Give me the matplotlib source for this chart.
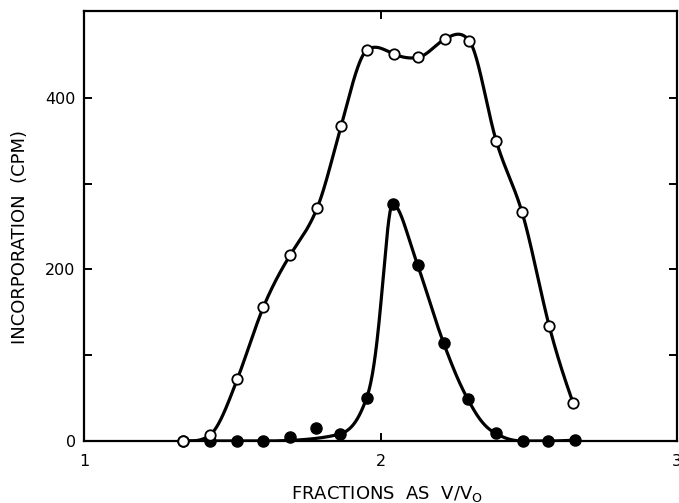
import numpy as np
import matplotlib
matplotlib.use("Agg")
import matplotlib.pyplot as plt

# ---- data ----
x_open = [1.334, 1.425, 1.517, 1.605, 1.696, 1.787, 1.867, 1.953, 2.044,
          2.128, 2.216, 2.300, 2.390, 2.477, 2.569, 2.650]
y_open = [0, 7, 72, 156, 217, 272, 367, 455, 451, 447, 468, 466, 350, 267, 134, 44]

x_filled = [1.334, 1.425, 1.517, 1.605, 1.696, 1.784, 1.862, 1.953, 2.041,
            2.125, 2.213, 2.294, 2.388, 2.479, 2.564, 2.655]
y_filled = [0, 0, 0, 0, 5, 15, 8, 50, 276, 205, 114, 49, 9, 0, 0, 1]
filled_off_curve = [4, 5]   # points lying off the drawn curve

x_ticks = [1, 2, 3]
x_ticklabels = ["1", "2", "3"]
y_ticks = [0, 100, 200, 300, 400]
y_ticklabels = ["0", "", "200", "", "400"]


def pchip(x, y, xs):
    x = np.asarray(x, float); y = np.asarray(y, float)
    n = len(x)
    h = np.diff(x); d = np.diff(y) / h
    m = np.zeros(n)
    for k in range(1, n - 1):
        if d[k - 1] * d[k] <= 0:
            m[k] = 0.0
        else:
            w1 = 2 * h[k] + h[k - 1]
            w2 = h[k] + 2 * h[k - 1]
            m[k] = (w1 + w2) / (w1 / d[k - 1] + w2 / d[k])
    def endslope(h0, h1, d0, d1):
        s = ((2 * h0 + h1) * d0 - h0 * d1) / (h0 + h1)
        if np.sign(s) != np.sign(d0):
            s = 0.0
        elif np.sign(d0) != np.sign(d1) and abs(s) > abs(3 * d0):
            s = 3 * d0
        return s
    m[0] = endslope(h[0], h[1], d[0], d[1])
    m[-1] = endslope(h[-1], h[-2], d[-1], d[-2])
    idx = np.clip(np.searchsorted(x, xs) - 1, 0, n - 2)
    t = (xs - x[idx]) / h[idx]
    h00 = 2 * t**3 - 3 * t**2 + 1
    h10 = t**3 - 2 * t**2 + t
    h01 = -2 * t**3 + 3 * t**2
    h11 = t**3 - t**2
    return (h00 * y[idx] + h10 * h[idx] * m[idx] + h01 * y[idx + 1]
            + h11 * h[idx] * m[idx + 1])


def cubic_spline(x, y, xs, start_slope=None):
    x = np.asarray(x, float); y = np.asarray(y, float)
    n = len(x)
    h = np.diff(x)
    A = np.zeros((n, n)); b = np.zeros(n)
    for i in range(1, n - 1):
        A[i, i - 1] = h[i - 1]
        A[i, i] = 2 * (h[i - 1] + h[i])
        A[i, i + 1] = h[i]
        b[i] = 6 * ((y[i + 1] - y[i]) / h[i] - (y[i] - y[i - 1]) / h[i - 1])
    if start_slope is None:
        A[0, 0] = 1
    else:
        A[0, 0] = 2 * h[0]; A[0, 1] = h[0]
        b[0] = 6 * ((y[1] - y[0]) / h[0] - start_slope)
    A[-1, -1] = 1
    M = np.linalg.solve(A, b)
    idx = np.clip(np.searchsorted(x, xs) - 1, 0, n - 2)
    x0 = x[idx]; x1 = x[idx + 1]; hh = h[idx]
    return (M[idx] * (x1 - xs)**3 / (6 * hh) + M[idx + 1] * (xs - x0)**3 / (6 * hh)
            + (y[idx] / hh - M[idx] * hh / 6) * (x1 - xs)
            + (y[idx + 1] / hh - M[idx + 1] * hh / 6) * (xs - x0))


plt.rcParams['font.family'] = ['DejaVu Sans']

fig = plt.figure(figsize=(6.79, 5.03), dpi=100)
ax = fig.add_axes([84 / 679, 1 - 441 / 503, (677 - 84) / 679, (441 - 11) / 503])

# open-circle curve: blend of monotone and natural spline
xs = np.linspace(x_open[0], x_open[-1], 800)
y_curve = 0.4 * pchip(x_open, y_open, xs) + \
    0.6 * cubic_spline(x_open, y_open, xs, start_slope=0.0)
ax.plot(xs, np.maximum(y_curve, 0), color='black', lw=2.3,
        solid_capstyle='round', zorder=2)

# filled-circle curve (monotone interpolation in log space)
xf_c = np.array([v for i, v in enumerate(x_filled) if i not in filled_off_curve])
yf_c = np.array([v for i, v in enumerate(y_filled) if i not in filled_off_curve])
c = 4.0
xs2 = np.linspace(xf_c[0], xf_c[-1], 1000)
yf_s = np.exp(pchip(xf_c, np.log(yf_c + c), xs2)) - c
ax.plot(xs2, np.maximum(yf_s, 0), color='black', lw=2.3,
        solid_capstyle='round', zorder=2)

ax.plot(x_filled, y_filled, 'o', ms=8, mfc='black', mec='black', zorder=3,
        clip_on=False)
ax.plot(x_open, y_open, 'o', ms=7.5, mfc='white', mec='black', mew=1.3,
        zorder=4, clip_on=False)

ax.set_xlim(1, 3)
ax.set_ylim(0, 501)
ax.set_xticks(x_ticks)
ax.set_xticklabels(x_ticklabels, fontsize=11.5)
ax.set_yticks(y_ticks)
ax.set_yticklabels(y_ticklabels, fontsize=11.5)
ax.tick_params(direction='in', length=6, width=1.4, top=True, right=True,
               labeltop=False, labelright=False)
ax.tick_params(axis='x', pad=9)
ax.tick_params(axis='y', pad=6)
for s in ax.spines.values():
    s.set_linewidth(1.6)

fig.text(20 / 679, 1 - 237 / 503, "INCORPORATION  (CPM)", rotation=90,
         ha='center', va='center', fontsize=13)
fig.text(387 / 679, 1 - 494 / 503, r"FRACTIONS  AS  V/V$_\mathregular{O}$",
         ha='center', va='center', fontsize=13)

fig.savefig("out.png", dpi=100)
